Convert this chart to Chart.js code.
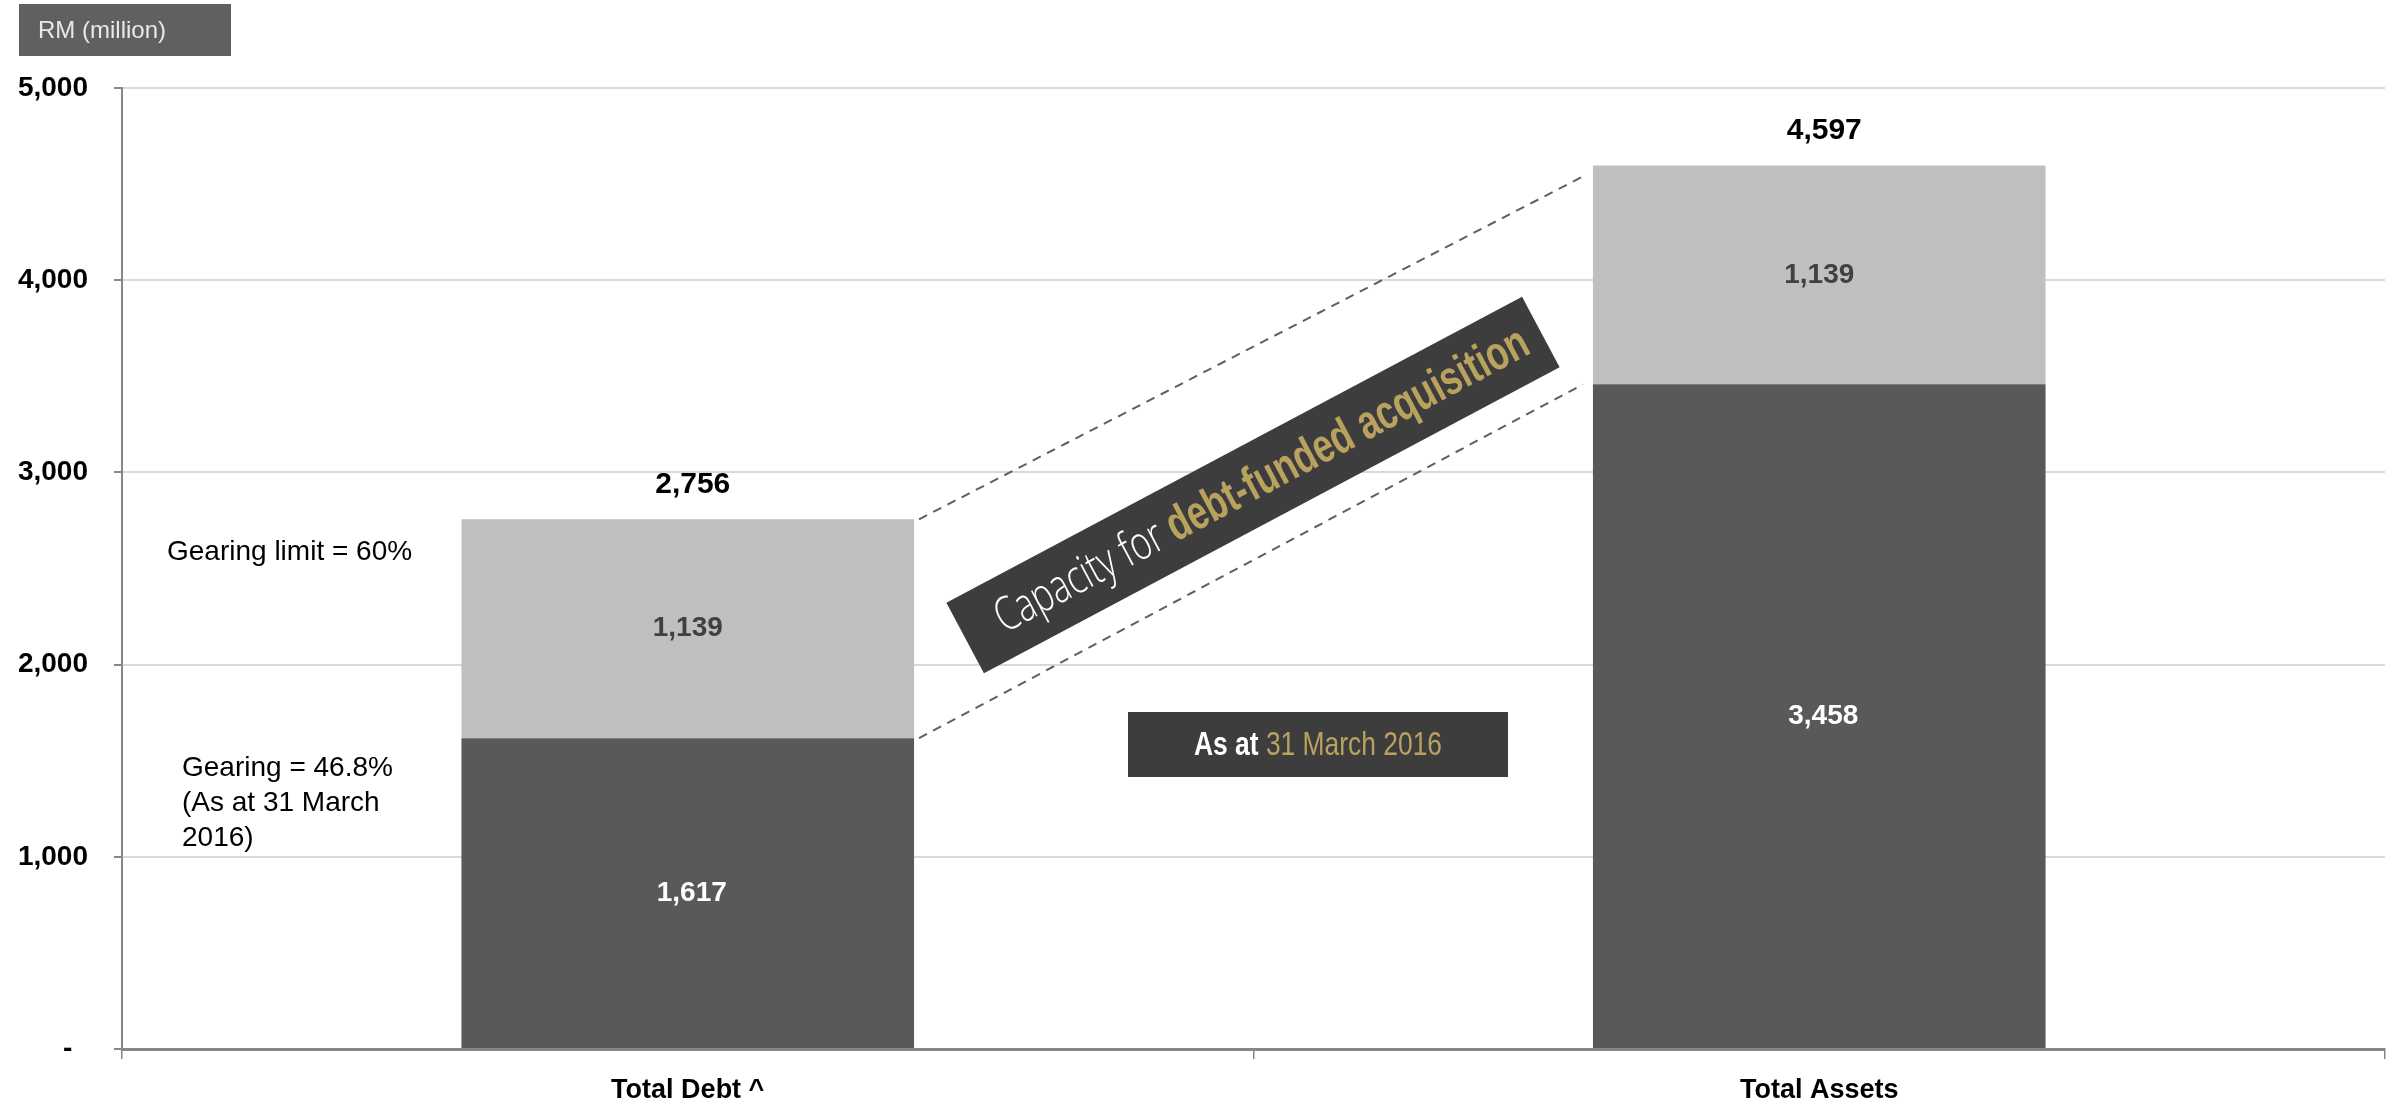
<!DOCTYPE html>
<html>
<head>
<meta charset="utf-8">
<title>Gearing capacity</title>
<script src="https://cdn.jsdelivr.net/npm/chart.js@4"></script>
<style>
  html, body { margin: 0; padding: 0; background: #ffffff; }
  #wrap { width: 2400px; height: 1103px; }
</style>
</head>
<body>
<div id="wrap"><canvas id="gearingChart" width="2400" height="1103"></canvas></div>
<script>
// categories and stacked values (RM million)
const CATEGORIES = ["Total Debt ^", "Total Assets"];
const CURRENT_VALUES = [1617, 3458];   // dark segment
const CAPACITY_VALUES = [1139, 1139];  // light segment (headroom)
const Y_MAX = 5000;
const Y_STEP = 1000;

const UNIT_LABEL = "RM (million)";
const LIMIT_NOTE = "Gearing limit = 60%";
const GEARING_NOTE = ["Gearing = 46.8%", "(As at 31 March", "2016)"];
const BANNER_PLAIN = "Capacity for ";
const BANNER_BOLD = "debt-funded acquisition";
const DATE_BOLD = "As at ";
const DATE_PLAIN = "31 March 2016";

const DARK = "#595959";
const LIGHT = "#bfbfbf";
const GOLD = "#b9a25e";
const BOX = "#3d3d3d";
const AXIS = "#868686";
const FONT = '"Liberation Sans", Arial, sans-serif';

const fmt = v => v.toLocaleString("en-US");

// draws text runs with different fonts, squeezed to a target width
function drawRuns(ctx, runs, cx, cy, targetW) {
  let total = 0;
  runs.forEach(r => { ctx.font = r.font; r.w = ctx.measureText(r.text).width; total += r.w; });
  const s = targetW / total;
  ctx.save();
  ctx.translate(cx, cy);
  ctx.scale(s, 1);
  ctx.textAlign = "left";
  ctx.textBaseline = "middle";
  let x = -total / 2;
  runs.forEach(r => {
    ctx.font = r.font;
    ctx.fillStyle = r.color;
    ctx.fillText(r.text, x, 0);
    x += r.w;
  });
  ctx.restore();
}

// labels, connectors and call-out boxes
const overlay = {
  id: "overlay",
  afterDatasetsDraw(chart) {
    const ctx = chart.ctx;
    const lower = chart.getDatasetMeta(0).data;
    const upper = chart.getDatasetMeta(1).data;
    ctx.save();
    ctx.textAlign = "center";
    ctx.textBaseline = "middle";

    // segment values
    ctx.font = "bold 28px " + FONT;
    lower.forEach((bar, i) => {
      ctx.fillStyle = "#ffffff";
      ctx.fillText(fmt(CURRENT_VALUES[i]), bar.x + 4, (bar.y + bar.base) / 2);
    });
    upper.forEach((bar, i) => {
      ctx.fillStyle = "#404040";
      ctx.font = "bold 28px " + FONT;
      ctx.fillText(fmt(CAPACITY_VALUES[i]), bar.x, (bar.y + bar.base) / 2);
      // stack total above the bar
      ctx.fillStyle = "#000000";
      ctx.font = "bold 30px " + FONT;
      ctx.fillText(fmt(CURRENT_VALUES[i] + CAPACITY_VALUES[i]), bar.x + 5, bar.y - 35);
    });

    // dashed connectors between the two bars
    const a = upper[0], b = upper[1];
    const x0 = a.x + a.width / 2 + 5;
    const x1 = b.x - b.width / 2 - 10;
    ctx.setLineDash([9, 7]);
    ctx.strokeStyle = "#5f5f5f";
    ctx.lineWidth = 2;
    ctx.beginPath();
    ctx.moveTo(x0, a.y);
    ctx.lineTo(x1, b.y + 11);
    ctx.moveTo(x0, lower[0].y);
    ctx.lineTo(x1, lower[1].y);
    ctx.stroke();
    ctx.setLineDash([]);

    // rotated banner
    ctx.save();
    ctx.translate(1253, 485);
    ctx.rotate(-28 * Math.PI / 180);
    ctx.fillStyle = BOX;
    ctx.fillRect(-326, -40, 652, 80);
    drawRuns(ctx, [
      { text: BANNER_PLAIN, font: '300 47px "Open Sans", ' + FONT, color: "#ffffff" },
      { text: BANNER_BOLD, font: "bold 48px " + FONT, color: GOLD }
    ], 10, 1, 598);
    ctx.restore();

    // date box
    ctx.fillStyle = BOX;
    ctx.fillRect(1128, 712, 380, 65);
    drawRuns(ctx, [
      { text: DATE_BOLD, font: "bold 34px " + FONT, color: "#ffffff" },
      { text: DATE_PLAIN, font: "34px " + FONT, color: GOLD }
    ], 1318, 746, 248);

    // unit box
    ctx.fillStyle = "#606060";
    ctx.fillRect(19, 4, 212, 52);
    ctx.fillStyle = "#e8e8e8";
    ctx.font = "24px " + FONT;
    ctx.textAlign = "left";
    ctx.fillText(UNIT_LABEL, 38, 31);

    // gearing notes
    ctx.fillStyle = "#000000";
    ctx.font = "28px " + FONT;
    ctx.fillText(LIMIT_NOTE, 167, 552);
    GEARING_NOTE.forEach((line, i) => ctx.fillText(line, 182, 768 + i * 35));

    ctx.restore();
  }
};

const chart = new Chart(document.getElementById("gearingChart").getContext("2d"), {
  type: "bar",
  data: {
    labels: CATEGORIES,
    datasets: [
      { label: "Current", data: CURRENT_VALUES, backgroundColor: DARK },
      { label: "Capacity", data: CAPACITY_VALUES, backgroundColor: LIGHT }
    ]
  },
  options: {
    responsive: false,
    devicePixelRatio: 1,
    animation: false,
    categoryPercentage: 0.8,
    barPercentage: 0.5,
    layout: { padding: { left: 0, top: 88, right: 15, bottom: 0 } },
    plugins: { legend: { display: false }, tooltip: { enabled: false } },
    scales: {
      x: {
        stacked: true,
        afterFit: s => { s.height = 54; },
        grid: {
          display: true,
          drawOnChartArea: false,
          drawTicks: true,
          tickLength: 10,
          color: AXIS,
          lineWidth: 1.5,
          offset: true
        },
        border: { display: true, color: AXIS, width: 3 },
        ticks: {
          color: "#000000",
          padding: 15,
          font: { family: FONT, size: 27, weight: "bold" }
        }
      },
      y: {
        stacked: true,
        min: 0,
        max: Y_MAX,
        afterFit: s => { s.width = 122; },
        grid: {
          color: c => (c.tick && c.tick.value === 0 ? "rgba(0,0,0,0)" : "#d9d9d9"),
          lineWidth: 2,
          tickLength: 8,
          tickColor: AXIS
        },
        border: { display: true, color: AXIS, width: 2 },
        ticks: {
          stepSize: Y_STEP,
          padding: 26,
          color: "#000000",
          font: { family: FONT, size: 28, weight: "bold" },
          callback: v => (v === 0 ? "-  " : fmt(v))
        }
      }
    }
  },
  plugins: [overlay]
});
</script>
</body>
</html>
